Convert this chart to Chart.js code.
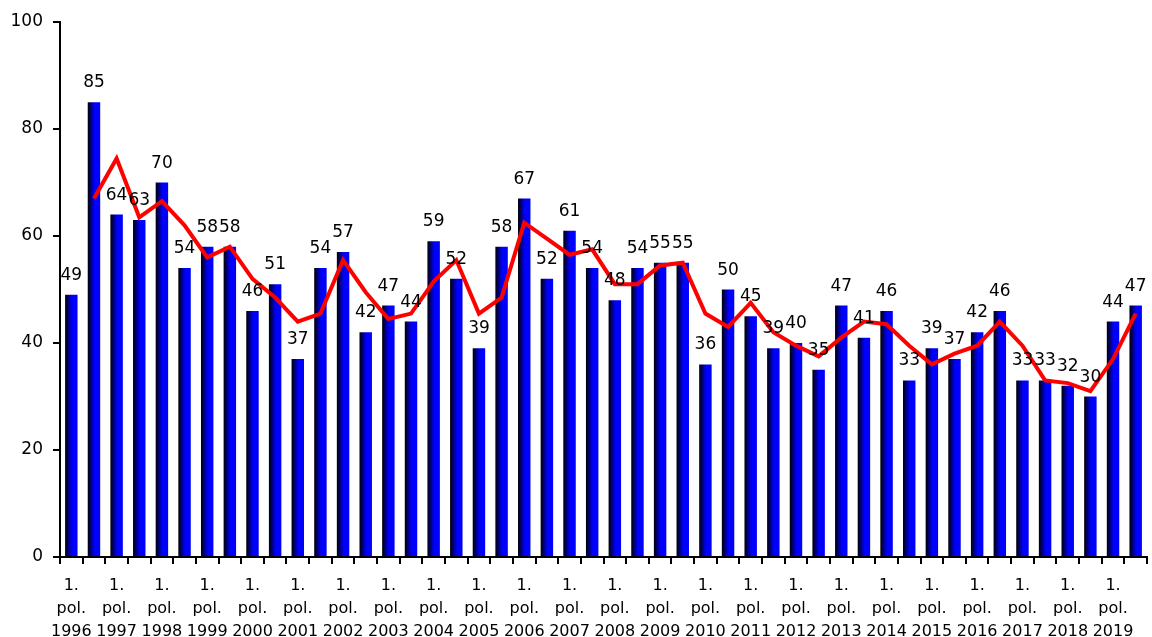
<!DOCTYPE html>
<html>
<head>
    <title>1. pol. 1996 - 2019</title>
    <script src="https://cdn.jsdelivr.net/npm/chart.js"></script>
    <style>
        body {
            background-color: white;
            margin: 0;
            overflow: hidden;
        }

        #chartBox {
            width: 1152px;
            height: 637px;
        }
    </style>
</head>
<body>
    <div id="chartBox">
        <canvas id="halfChart"></canvas>
    </div>

    <script>
        const years = [
            1996, 1997, 1998, 1999, 2000, 2001, 2002, 2003, 2004, 2005, 2006, 2007,
            2008, 2009, 2010, 2011, 2012, 2013, 2014, 2015, 2016, 2017, 2018, 2019
        ];

        // two halves per year, only the first half gets a label
        const halfLabels = years.flatMap(y => [['1.', 'pol.', String(y)], '']);

        const values = [
            49, 85, 64, 63, 70, 54, 58, 58, 46, 51, 37, 54,
            57, 42, 47, 44, 59, 52, 39, 58, 67, 52, 61, 54,
            48, 54, 55, 55, 36, 50, 45, 39, 40, 35, 47, 41,
            46, 33, 39, 37, 42, 46, 33, 33, 32, 30, 44, 47
        ];

        const trend = [
            null, 67, 74.5, 63.5, 66.5, 62, 56, 58, 52, 48.5, 44, 45.5,
            55.5, 49.5, 44.5, 45.5, 51.5, 55.5, 45.5, 48.5, 62.5, 59.5, 56.5, 57.5,
            51, 51, 54.5, 55, 45.5, 43, 47.5, 42, 39.5, 37.5, 41, 44,
            43.5, 39.5, 36, 38, 39.5, 44, 39.5, 33, 32.5, 31, 37, 45.5
        ];

        const yTicks = [0, 20, 40, 60, 80, 100];

        const fontName = "'DejaVu Sans', Verdana, sans-serif";
        const barPct = 0.55;

        function barFill(c) {
            const chart = c.chart;
            if (!chart.chartArea) return '#0000ff';
            const xs = chart.scales.x;
            const mid = xs.getPixelForValue(c.dataIndex);
            const w = xs.width / values.length * barPct;
            const g = chart.ctx.createLinearGradient(mid - w / 2, 0, mid + w / 2, 0);
            g.addColorStop(0, '#000000');
            g.addColorStop(0.55, '#0000ff');
            g.addColorStop(1, '#0000ff');
            return g;
        }

        const valueLabels = {
            id: 'valueLabels',
            afterDatasetsDraw(chart) {
                const ctx = chart.ctx;
                const meta = chart.getDatasetMeta(0);
                ctx.save();
                ctx.font = '17px ' + fontName;
                ctx.fillStyle = '#000';
                ctx.textAlign = 'center';
                ctx.textBaseline = 'alphabetic';
                meta.data.forEach((bar, i) => {
                    ctx.fillText(values[i], bar.x, bar.y - 15);
                });
                ctx.restore();
            }
        };

        const ctx = document.getElementById('halfChart').getContext('2d');
        new Chart(ctx, {
            type: 'bar',
            data: {
                labels: halfLabels,
                datasets: [
                    {
                        label: 'values',
                        data: values,
                        backgroundColor: barFill,
                        barPercentage: barPct,
                        categoryPercentage: 1,
                        order: 2
                    },
                    {
                        type: 'line',
                        label: 'trend',
                        data: trend,
                        borderColor: '#ff0000',
                        borderWidth: 4,
                        pointRadius: 0,
                        tension: 0,
                        fill: false,
                        order: 1
                    }
                ]
            },
            options: {
                responsive: true,
                maintainAspectRatio: false,
                animation: false,
                layout: {
                    padding: { top: 22, right: 5, left: 0, bottom: 0 }
                },
                scales: {
                    x: {
                        afterFit: axis => { axis.height = 80; },
                        border: { color: '#000', width: 2 },
                        grid: {
                            drawOnChartArea: false,
                            color: '#000',
                            lineWidth: 2,
                            tickLength: 7
                        },
                        ticks: {
                            autoSkip: false,
                            maxRotation: 0,
                            color: '#000',
                            padding: 10,
                            font: { family: fontName, size: 16, lineHeight: 1.44 }
                        }
                    },
                    y: {
                        min: 0,
                        max: 100,
                        afterFit: axis => { axis.width = 60; },
                        afterBuildTicks: axis => {
                            axis.ticks = yTicks.map(v => ({ value: v }));
                        },
                        border: { color: '#000', width: 2 },
                        grid: {
                            drawOnChartArea: false,
                            color: '#000',
                            lineWidth: 2,
                            tickLength: 7
                        },
                        ticks: {
                            color: '#000',
                            padding: 10,
                            font: { family: fontName, size: 17 }
                        }
                    }
                },
                plugins: {
                    legend: { display: false },
                    tooltip: { enabled: false }
                }
            },
            plugins: [valueLabels]
        });
    </script>
</body>
</html>
